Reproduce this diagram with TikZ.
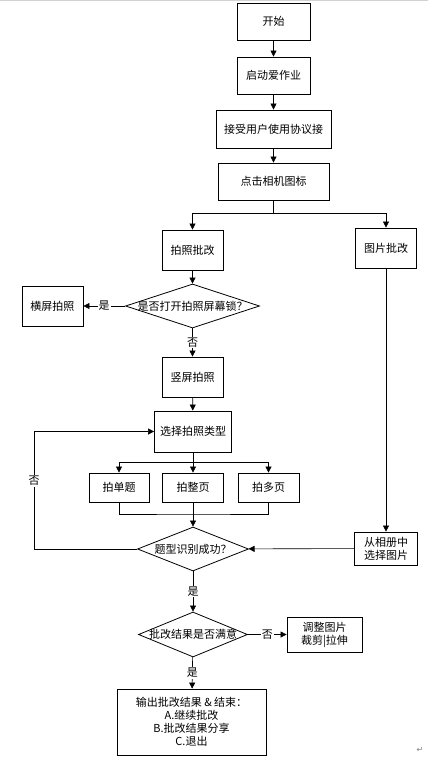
\documentclass[tikz,border=0pt]{standalone}
\usepackage{fontspec}
\setmainfont{Noto Sans CJK SC}
\newfontfamily\symfont{DejaVu Sans}
\usetikzlibrary{shapes}
\usetikzlibrary{positioning}
\usetikzlibrary{arrows.meta}
\tikzset{
    box/.style = {rectangle, thick, draw=black, minimum width=61pt, minimum height=40pt, fill=white, inner sep=2pt},
    decision/.style = {diamond, thick, draw=black, inner sep=0pt},
    edgen/.style = {-{Triangle[length=6pt,width=6pt]},semithick},
    edgel/.style = {semithick}, % plain joint
    yesno/.style = {fill=white, inner sep=1pt},
}
\begin{document}
\begin{tikzpicture}[x=1pt,y=-1pt,font=\fontsize{11pt}{13pt}\selectfont]
\useasboundingbox (0,0) rectangle (428,760);
\draw[gray!35] (0,0.5) -- (428,0.5);
%
\node[box, minimum width=73pt, minimum height=37pt] at (273.5,21.5) (start) {开始};
\node[box, minimum width=73pt, minimum height=37pt] at (273.5,75.5) (launch) {启动爱作业};
\node[box, minimum width=115pt, minimum height=38pt] at (273.5,129) (agree) {接受用户使用协议接};
\node[box, minimum width=111pt, minimum height=37pt] at (273.5,181.5) (click) {点击相机图标};
\node[box] at (192.5,250) (photo) {拍照批改};
\node[box] at (386,248) (album) {图片批改};
\node[decision, minimum width=134pt, minimum height=44pt, label={center:是否打开拍照屏幕锁？}] at (192.5,306) (lock) {};
\node[box] at (52.5,306) (landscape) {横屏拍照};
\node[box] at (192.5,377) (portrait) {竖屏拍照};
\node[box, minimum width=77pt, minimum height=41pt] at (193,431.5) (select) {选择拍照类型};
\node[box, minimum width=60pt, minimum height=29pt] at (119,487.5) (single) {拍单题};
\node[box, minimum width=61pt, minimum height=29pt] at (193,487.5) (whole) {拍整页};
\node[box, minimum width=61pt, minimum height=29pt] at (268.5,487.5) (multi) {拍多页};
\node[decision, minimum width=111pt, minimum height=44pt, label={center:题型识别成功？}] at (193,549) (recog) {};
\node[box, minimum width=63pt, minimum height=33pt, align=center] at (386,548.5) (albumsel) {从相册中\\选择图片};
\node[decision, minimum width=109pt, minimum height=45pt, label={center:批改结果是否满意}] at (193,634.5) (satisfied) {};
\node[box, minimum width=75pt, minimum height=35pt, align=center] at (324.5,634.5) (adjust) {调整图片\\裁剪|拉伸};
\node[box, minimum width=149pt, minimum height=66pt, align=center] at (191.5,722) (finish) {输出批改结果 \& 结束：\\A.继续批改\\B.批改结果分享\\C.退出};
\node[gray, font=\symfont\fontsize{8pt}{8pt}\selectfont] at (420,750) (mark) {↵};
%
\coordinate (s1) at (273.5,213);
\coordinate (s2) at (193,462);
\coordinate (m1) at (193,514);
\coordinate (back) at (34,549);
%
\draw[edgen] (start) -- (launch);
\draw[edgen] (launch) -- (agree);
\draw[edgen] (agree) -- (click);
\draw[edgel] (click) -- (s1);
\draw[edgen] (s1) -| (photo);
\draw[edgen] (s1) -| (album);
\draw[edgen] (photo) -- (lock);
\draw[edgen] (lock) -- node[yesno] {是} (landscape);
\draw[edgen] (lock) -- node[yesno] {否} (portrait);
\draw[edgen] (portrait) -- (select);
\draw[edgen] (select) -- (whole);
\draw[edgen] (s2) -| (single);
\draw[edgen] (s2) -| (multi);
\draw[edgel] (single) |- (m1) -| (multi);
\draw[edgen] (whole) -- (recog);
\draw[edgen] (recog) -- (back) |- node[yesno, pos=0.29] {否} (select);
\draw[edgen] (album) -- (albumsel);
\draw[edgen] (albumsel) -- (recog);
\draw[edgen] (recog) -- node[yesno] {是} (satisfied);
\draw[edgen] (satisfied) -- node[yesno] {否} (adjust);
\draw[edgen] (satisfied) -- node[yesno] {是} (finish);

\end{tikzpicture}
\end{document}
